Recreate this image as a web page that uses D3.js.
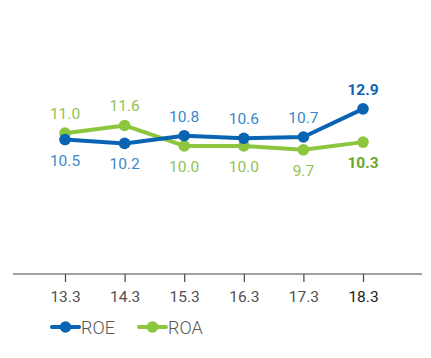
<!DOCTYPE html>
<html>
<head>
<meta charset="utf-8">
<script src="https://cdn.jsdelivr.net/npm/d3@7/dist/d3.min.js"></script>
<style>
  html, body { margin: 0; padding: 0; background: #fff; }
  svg { display: block; }
  text { font-family: Roboto, "Liberation Sans", Arial, sans-serif; }
</style>
</head>
<body>
<svg id="chart" width="431" height="358"></svg>
<script>
// Fiscal periods and ratios (%)
const periods = ["13.3", "14.3", "15.3", "16.3", "17.3", "18.3"];
const roe = [10.5, 10.2, 10.8, 10.6, 10.7, 12.9];
const roa = [11.0, 11.6, 10.0, 10.0, 9.7, 10.3];
// label placement: +1 above the point, -1 below
const roeLabelSide = [-1, -1, 1, 1, 1, 1];
const roaLabelSide = [1, 1, -1, -1, -1, -1];
const seriesNames = ["ROE", "ROA"];

const axisY = 274, left = 13, right = 422;
const svg = d3.select("#chart");

const x = d3.scalePoint().domain(periods).range([65, 363]);
const y = d3.scaleLinear().domain([0, 21.4]).range([axisY, 0]);

// baseline axis
svg.append("line")
  .attr("x1", left).attr("x2", right)
  .attr("y1", axisY).attr("y2", axisY)
  .attr("stroke", "#444").attr("stroke-width", 1.2);

const axis = d3.axisBottom(x).tickSize(8).tickPadding(9);
const gx = svg.append("g").attr("transform", `translate(0,${axisY})`).call(axis);
gx.select(".domain").remove();
gx.selectAll(".tick line").attr("stroke", "#444").attr("stroke-width", 1.2);
gx.selectAll(".tick text")
  .attr("font-size", 15.5)
  .attr("fill", d => d === "18.3" ? "#1a1a1a" : "#505050")
  .attr("font-weight", 400)
  .style("font-family", "Roboto, 'Liberation Sans', Arial, sans-serif");

const series = [
  { name: seriesNames[0], values: roe, sides: roeLabelSide, color: "#0a64b4", label: "#3a88c8", labelBold: "#0a64b4" },
  { name: seriesNames[1], values: roa, sides: roaLabelSide, color: "#8cc63e", label: "#92c253", labelBold: "#6aa82c" }
];

const line = d3.line().x((d, i) => x(periods[i])).y(d => y(d));

// ROA drawn first so ROE sits on top
[series[1], series[0]].forEach(s => {
  svg.append("path")
    .datum(s.values)
    .attr("d", line)
    .attr("fill", "none")
    .attr("stroke", s.color)
    .attr("stroke-width", 4)
    .attr("stroke-linejoin", "round");
  svg.selectAll(null)
    .data(s.values)
    .enter().append("circle")
    .attr("cx", (d, i) => x(periods[i]))
    .attr("cy", d => y(d))
    .attr("r", 5.8)
    .attr("fill", s.color);
});

series.forEach(s => {
  svg.selectAll(null)
    .data(s.values)
    .enter().append("text")
    .attr("x", (d, i) => x(periods[i]))
    .attr("y", (d, i) => y(d) + (s.sides[i] > 0 ? -14 : 26))
    .attr("text-anchor", "middle")
    .attr("font-size", 15.5)
    .attr("font-weight", (d, i) => i === periods.length - 1 ? 700 : 400)
    .attr("fill", (d, i) => i === periods.length - 1 ? s.labelBold : s.label)
    .text(d => d.toFixed(1));
});

// legend
const legend = svg.append("g").attr("transform", "translate(0,327)");
const legendX = [52, 139];
series.forEach((s, i) => {
  const g = legend.append("g").attr("transform", `translate(${legendX[i]},0)`);
  g.append("line").attr("x1", 0).attr("x2", 27).attr("y1", 0).attr("y2", 0)
    .attr("stroke", s.color).attr("stroke-width", 4).attr("stroke-linecap", "round");
  g.append("circle").attr("cx", 13.5).attr("cy", 0).attr("r", 5.8).attr("fill", s.color);
  g.append("text").attr("x", 29).attr("y", 6.5)
    .attr("font-size", 18).attr("font-weight", 300)
    .attr("fill", "#555").text(s.name);
});
</script>
</body>
</html>
